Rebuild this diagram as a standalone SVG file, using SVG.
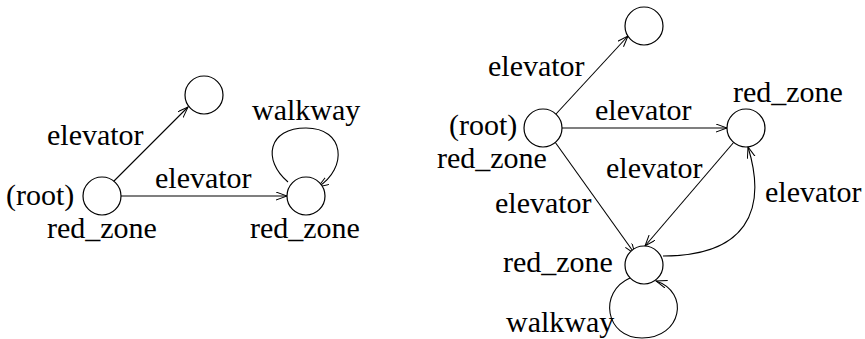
<svg xmlns="http://www.w3.org/2000/svg" width="865" height="339" viewBox="0 0 865 339" font-family="Liberation Serif, Times New Roman, DejaVu Serif, serif" font-size="30">
<defs>
<marker id="arr" markerWidth="12" markerHeight="9" refX="11" refY="4" orient="auto" markerUnits="userSpaceOnUse">
<path d="M0,0 L11,4 L0,8" fill="none" stroke="#000" stroke-width="1"/>
</marker>
<style>
.n{fill:#fff;stroke:#000;stroke-width:1.2}
.e{fill:none;stroke:#000;stroke-width:1.1;marker-end:url(#arr)}
.t{fill:#000}
</style>
</defs>
<rect width="865" height="339" fill="#fff"/>
<g id="connectors">
<line class="e" x1="113" y1="182" x2="188" y2="107"/>
<line class="e" x1="121" y1="196" x2="287" y2="196"/>
<path class="e" d="M288,182 C262,160 268,128 306,128 C345,128 348,168 318,187"/>
<line class="e" x1="556" y1="114" x2="628" y2="36"/>
<line class="e" x1="562" y1="128" x2="727" y2="128"/>
<line class="e" x1="555" y1="142" x2="635" y2="254"/>
<line class="e" x1="734" y1="142" x2="645" y2="246"/>
<path class="e" d="M663,256 C745,256 768,212 748,147"/>
<path class="e" d="M630,278 C598,292 605,338 642,338 C682,338 690,292 656,281"/>
</g>
<g id="L_root"><circle class="n" cx="102" cy="196" r="19"/><text class="t" x="6" y="205">(root)</text><text class="t" x="47" y="238">red_zone</text></g>
<g id="L_top"><circle class="n" cx="204" cy="95" r="19"/></g>
<g id="L_right"><circle class="n" cx="306" cy="196" r="19"/><text class="t" x="250" y="238">red_zone</text></g>
<g id="L_labels"><text class="t" x="47" y="145">elevator</text><text class="t" x="155" y="188">elevator</text><text class="t" x="252" y="120">walkway</text></g>
<g id="R_root"><circle class="n" cx="543" cy="128" r="19"/><text class="t" x="449" y="135">(root)</text><text class="t" x="437" y="168">red_zone</text></g>
<g id="R_top"><circle class="n" cx="644" cy="26" r="19"/></g>
<g id="R_right"><circle class="n" cx="746" cy="128" r="19"/><text class="t" x="733" y="102">red_zone</text></g>
<g id="R_bottom"><circle class="n" cx="644" cy="265" r="19"/><text class="t" x="503" y="272">red_zone</text></g>
<g id="R_labels"><text class="t" x="488" y="76">elevator</text><text class="t" x="595" y="120">elevator</text><text class="t" x="606" y="178">elevator</text><text class="t" x="495" y="213">elevator</text><text class="t" x="765" y="202">elevator</text><text class="t" x="506" y="332">walkway</text></g>
</svg>
